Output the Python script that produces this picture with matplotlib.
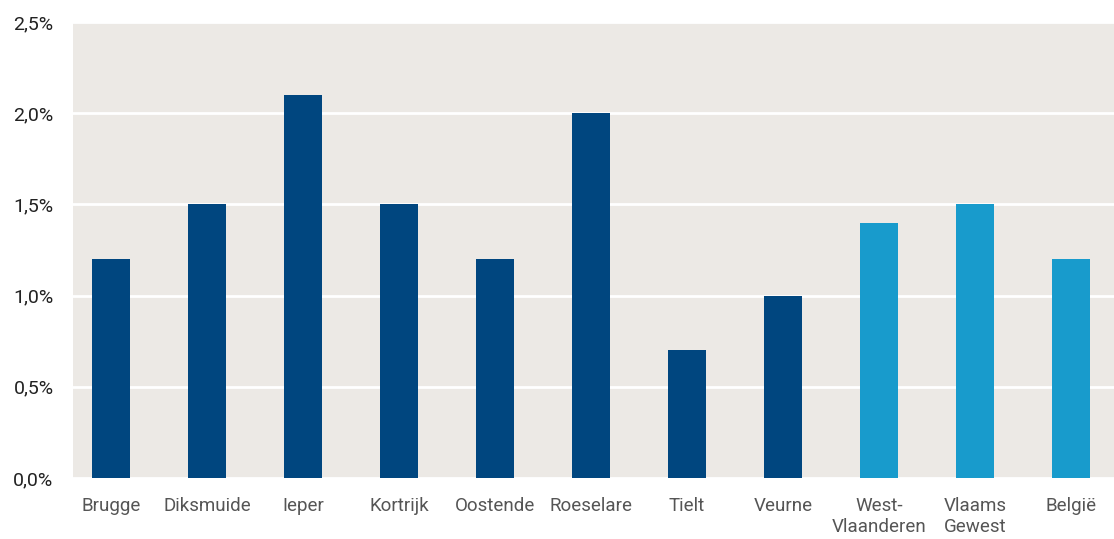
import matplotlib.pyplot as plt
from matplotlib.ticker import FuncFormatter

categories = ["Brugge", "Diksmuide", "Ieper", "Kortrijk", "Oostende", "Roeselare",
              "Tielt", "Veurne", "West-\nVlaanderen", "Vlaams\nGewest", "België"]
values = [1.2, 1.5, 2.1, 1.5, 1.2, 2.0, 0.7, 1.0, 1.4, 1.5, 1.2]
colors = ["#00467f"] * 8 + ["#189bcc"] * 3

plt.rcParams['font.family'] = ['Roboto', 'DejaVu Sans']

fig = plt.figure(figsize=(11.14, 5.39), dpi=100)
ax = fig.add_axes([73 / 1114, 1 - 478 / 539, (1114 - 73) / 1114, (478 - 22) / 539])
ax.set_facecolor("#ece9e5")

x = list(range(len(categories)))
ax.bar(x, values, width=0.4, color=colors, zorder=3)

ax.set_xlim(-0.396, 10.45)
ax.set_ylim(0, 2.5)
ax.set_yticks([0, 0.5, 1.0, 1.5, 2.0, 2.5])
ax.yaxis.set_major_formatter(FuncFormatter(lambda v, p: f"{v:.1f}%".replace(".", ",")))
ax.grid(axis="y", color="white", linewidth=2, zorder=1)
ax.set_axisbelow(True)

ax.set_xticks(x)
ax.set_xticklabels(categories, fontsize=13.5, color="#555555", linespacing=1.2)
ax.tick_params(axis="x", length=0, pad=14)
ax.tick_params(axis="y", length=0, pad=14, labelsize=14, labelcolor="#222222")
for s in ax.spines.values():
    s.set_visible(False)

fig.savefig("out.png", dpi=100)
